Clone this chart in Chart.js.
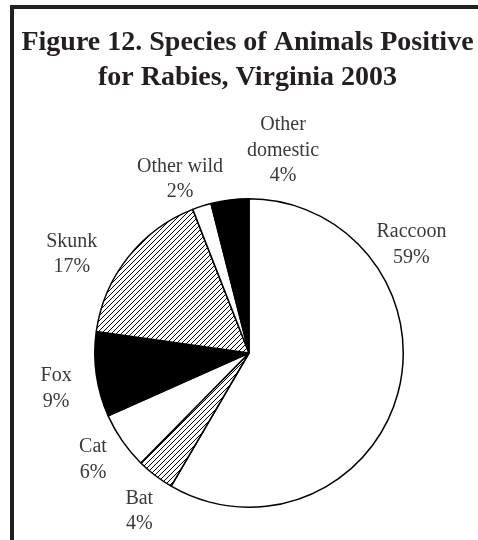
<!DOCTYPE html>
<html>
<head>
<meta charset="utf-8">
<script src="https://cdn.jsdelivr.net/npm/chart.js@4.4.1/dist/chart.umd.min.js"></script>
<style>
  html, body { margin: 0; padding: 0; background: #ffffff; }
  #wrap { width: 478px; height: 540px; position: relative; }
</style>
</head>
<body>
<div id="wrap"><canvas id="pie" width="478" height="540"></canvas></div>
<script>
// Rabies-positive animals by species, Virginia 2003 (percent of total)
const categories = ['Raccoon', 'Bat', 'Cat', 'Fox', 'Skunk', 'Other wild', 'Other\ndomestic'];
const percents = [59, 4, 6, 9, 17, 2, 4];
const titleLines = ['Figure 12. Species of Animals Positive', 'for Rabies, Virginia 2003'];

// Diagonal hatching used for the bat and skunk slices
function makeHatch() {
  const size = 5;
  const c = document.createElement('canvas');
  c.width = size; c.height = size;
  const g = c.getContext('2d');
  g.fillStyle = '#ffffff';
  g.fillRect(0, 0, size, size);
  g.strokeStyle = '#000000';
  g.lineWidth = 1;
  g.beginPath();
  g.moveTo(-1, size + 1); g.lineTo(size + 1, -1);
  g.moveTo(-1, 1); g.lineTo(1, -1);
  g.moveTo(size - 1, size + 1); g.lineTo(size + 1, size - 1);
  g.stroke();
  return g.createPattern(c, 'repeat');
}
const hatch = makeHatch();
const fills = ['#ffffff', hatch, '#ffffff', '#000000', hatch, '#ffffff', '#000000'];

// Where each slice label sits: angle clockwise from 12 o'clock, and distance as a
// multiple of the pie radius
const labelPlacement = {
  'Raccoon': [56, 1.27],
  'Bat': [215, 1.24],
  'Cat': [236, 1.22],
  'Fox': [260, 1.27],
  'Skunk': [299.5, 1.32],
  'Other wild': [338.5, 1.22],
  'Other\ndomestic': [9.5, 1.34]
};

const SERIF = '"Liberation Serif", "Times New Roman", serif';

// Page frame (top and left rules) and the two-line heading
const framePlugin = {
  id: 'frame',
  beforeDraw(chart) {
    const ctx = chart.ctx;
    ctx.save();
    ctx.fillStyle = '#ffffff';
    ctx.fillRect(0, 0, chart.width, chart.height);
    ctx.fillStyle = '#231f20';
    ctx.fillRect(10, 5, chart.width - 10, 4);
    ctx.fillRect(10, 5, 4, chart.height - 5);
    ctx.font = 'bold 28px ' + SERIF;
    ctx.textAlign = 'center';
    ctx.textBaseline = 'alphabetic';
    ctx.fillText(titleLines[0], 247.5, 50);
    ctx.fillText(titleLines[1], 247.5, 85);
    ctx.restore();
  }
};

const sliceLabels = {
  id: 'sliceLabels',
  afterDatasetsDraw(chart) {
    const ctx = chart.ctx;
    const meta = chart.getDatasetMeta(0);
    const values = chart.data.datasets[0].data;
    ctx.save();
    ctx.font = '20px ' + SERIF;
    ctx.fillStyle = '#3a3a3a';
    ctx.textAlign = 'center';
    ctx.textBaseline = 'middle';
    meta.data.forEach((arc, i) => {
      const name = chart.data.labels[i];
      const place = labelPlacement[name];
      const ang = place[0] * Math.PI / 180;
      const r = arc.outerRadius * place[1];
      const cx = arc.x + Math.sin(ang) * r;
      const cy = arc.y - Math.cos(ang) * r;
      const lines = name.split('\n').concat([values[i] + '%']);
      const lh = 25.5;
      const top = cy - (lines.length - 1) * lh / 2 + 1.5;
      lines.forEach((t, k) => ctx.fillText(t, cx, top + k * lh));
    });
    ctx.restore();
  }
};

new Chart(document.getElementById('pie'), {
  type: 'pie',
  data: {
    labels: categories,
    datasets: [{
      data: percents,
      backgroundColor: fills,
      borderColor: '#000000',
      borderWidth: 1.5,
      borderAlign: 'center'
    }]
  },
  options: {
    responsive: false,
    animation: false,
    events: [],
    layout: { padding: { left: 94, right: 74, top: 198, bottom: 32 } },
    plugins: {
      legend: { display: false },
      tooltip: { enabled: false },
      title: { display: false }
    }
  },
  plugins: [framePlugin, sliceLabels]
});
</script>
</body>
</html>
